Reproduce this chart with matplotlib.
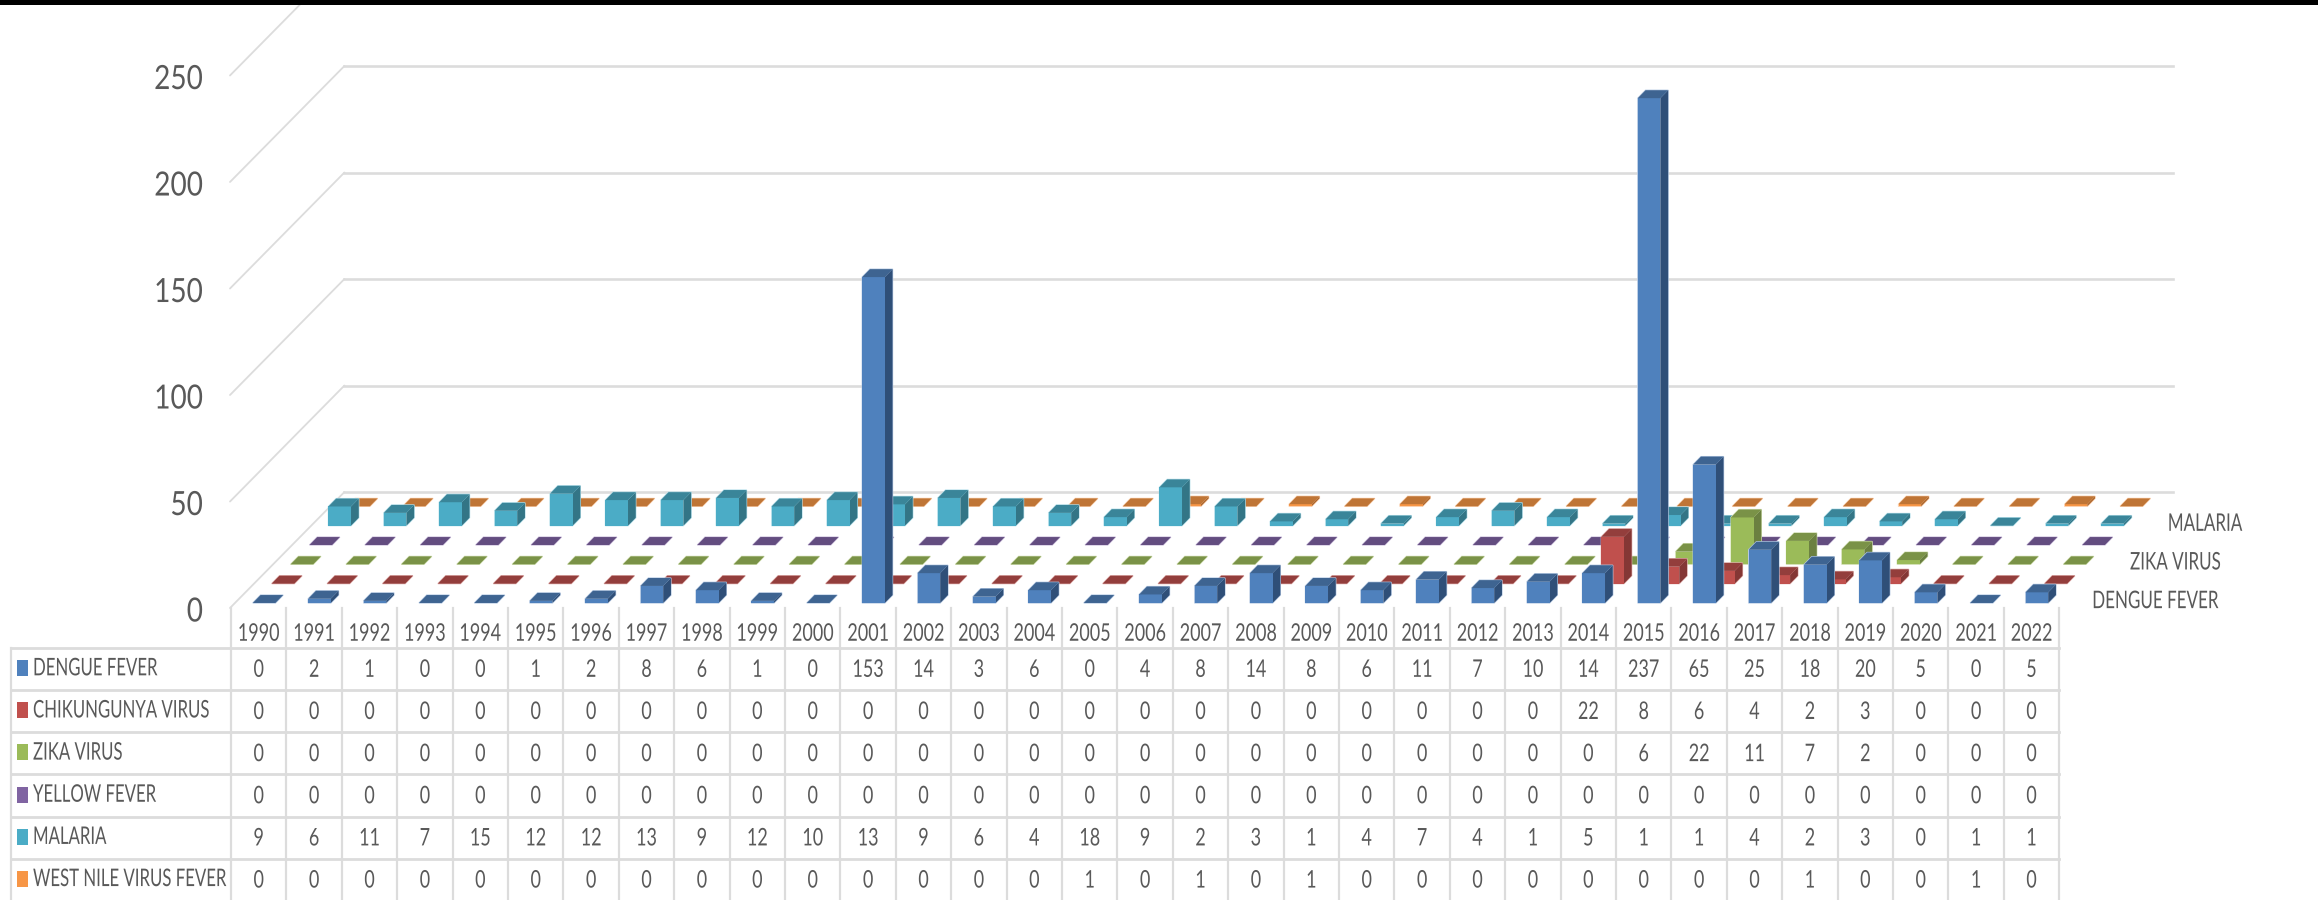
import matplotlib
matplotlib.use("Agg")
import matplotlib.pyplot as plt
from matplotlib.patches import Polygon, Rectangle
from matplotlib.patheffects import AbstractPathEffect
from matplotlib.transforms import Affine2D

plt.rcParams['font.family'] = ['Lato', 'Liberation Sans', 'DejaVu Sans']

years = list(range(1990, 2023))
dengue = [0,2,1,0,0,1,2,8,6,1,0,153,14,3,6,0,4,8,14,8,6,11,7,10,14,237,65,25,18,20,5,0,5]
chik = [0]*24 + [22,8,6,4,2,3,0,0,0]
zika = [0]*25 + [6,22,11,7,2,0,0,0]
yellow = [0]*33
malaria = [9,6,11,7,15,12,12,13,9,12,10,13,9,6,4,18,9,2,3,1,4,7,4,1,5,1,1,4,2,3,0,1,1]
wnv = [0]*15 + [1,0,1,0,1,0,0,0,0,0,0,0,0,1,0,0,1,0]
series_names = ["DENGUE FEVER","CHIKUNGUNYA VIRUS","ZIKA VIRUS","YELLOW FEVER","MALARIA","WEST NILE VIRUS FEVER"]
series_values = [dengue, chik, zika, yellow, malaria, wnv]
face = ['#4F81BD','#C0504D','#9BBB59','#8064A2','#4BACC6','#F79646']
top = ['#3E6491','#933E3C','#7A9247','#634D80','#3A8599','#BF7536']
side = ['#2F4F78','#843735','#6B8040','#574470','#337586','#AC672E']
rim = ['#B4C8E2','#E0B0AE','#D3E0B5','#CBBEDB','#B3DEE9','#FBD0AE']
axis_names = {0:"DENGUE FEVER", 2:"ZIKA VIRUS", 4:"MALARIA"}
yticks = [0,50,100,150,200,250]

W, H = 2318, 900
fig = plt.figure(figsize=(W/100, H/100), dpi=100)
ax = fig.add_axes([0,0,1,1])
ax.set_xlim(0, W); ax.set_ylim(H, 0); ax.axis('off')

GRID = '#DCDCDC'; TXT = '#595959'
X0, Y0 = 231.0, 608.0      # front-left floor corner
CW = 55.4                  # category width
PX = 2.13                  # pixels per unit
DX, DY = 18.9, 19.33       # projection shift per series slot
BW = 22.6                  # bar width
D_IN, D_OUT = 0.26, 0.67   # bar depth inside its slot
GAP = 16.9


class StretchY(AbstractPathEffect):
    """Stretch glyph outlines vertically around a display y, giving tall narrow type."""
    def __init__(self, sy, anchor):
        super().__init__()
        self.sy, self.anchor = sy, anchor

    def draw_path(self, renderer, gc, tpath, affine, rgbFace=None):
        t = affine + Affine2D().translate(0, -self.anchor).scale(1, self.sy).translate(0, self.anchor)
        renderer.draw_path(gc, tpath, t, rgbFace)


def put(x, y, s, size, sx, ha='center', z=21):
    """size = apparent height in points, sx = horizontal narrowing."""
    t = ax.text(x, y, s, ha=ha, va='center', fontsize=size*sx, color=TXT, zorder=z)
    t.set_path_effects([StretchY(1/sx, ax.transData.transform((x, y))[1])])
    return t


def proj(x, depth, v):
    return (X0 + x + depth*DX, Y0 - depth*DY - v*PX)

# walls
xr = CW*len(years)
for t in yticks:
    a = proj(-1, 0, t); b = proj(0, 6, t); c = proj(xr, 6, t)
    ax.plot([a[0], b[0]], [a[1], b[1]], color=GRID, lw=1.3, solid_capstyle='round', zorder=1)
    ax.plot([b[0], c[0]], [b[1], c[1]], color=GRID, lw=1.9, zorder=1)
    put(203, a[1]+4, str(t), 24, 0.84, ha='right')

# bars, back to front
z = 2
for s in range(5, -1, -1):
    vals = series_values[s]
    for i in range(len(years)-1, -1, -1):
        v = vals[i]
        x0 = i*CW + GAP; x1 = x0 + BW
        d0 = s + D_IN; d1 = s + D_OUT
        outline = [proj(x0,d0,0),proj(x1,d0,0),proj(x1,d1,0),proj(x1,d1,v),proj(x0,d1,v),proj(x0,d0,v)]
        ax.add_patch(Polygon(outline, fc=rim[s], ec=rim[s], lw=0.9, zorder=z))
        if v > 0:
            ax.add_patch(Polygon([proj(x1,d0,0),proj(x1,d1,0),proj(x1,d1,v),proj(x1,d0,v)],
                                 fc=side[s], ec='none', zorder=z))
            ax.add_patch(Polygon([proj(x0,d0,0),proj(x1,d0,0),proj(x1,d0,v),proj(x0,d0,v)],
                                 fc=face[s], ec='none', zorder=z))
        ax.add_patch(Polygon([proj(x0,d0,v),proj(x1,d0,v),proj(x1,d1,v),proj(x0,d1,v)],
                             fc=top[s], ec='none', zorder=z))
    z += 1

# series axis labels
for s, name in axis_names.items():
    px, py = proj(xr, s, 0)
    put(px + 33, py - 7, name, 17.5, 0.70, ha='left')

# table
rows_y = [648 + 42.15*k for k in range(7)]
for y in rows_y[:-1]:
    ax.plot([11, X0+xr], [y, y], color=GRID, lw=2, zorder=20)
for k in range(len(years)+1):
    x = X0 + k*CW
    ax.plot([x, x], [Y0, 900], color=GRID, lw=1.6, zorder=20)
ax.plot([11, 11], [648, 900], color=GRID, lw=1.6, zorder=20)

for k, yr in enumerate(years):
    put(X0 + (k+.5)*CW, 634, str(yr), 17.5, 0.74)
for s, name in enumerate(series_names):
    ym = (rows_y[s] + rows_y[s+1])/2
    ax.add_patch(Rectangle((17, ym-9), 11, 16, fc=face[s], ec='none', zorder=21))
    put(33, ym-1, name, 17.5, 0.69, ha='left')
    for k, v in enumerate(series_values[s]):
        put(X0 + (k+.5)*CW, ym+1, str(v), 17.5, 0.74)

ax.add_patch(Rectangle((0, 0), W, 4.7, fc='black', ec='none', zorder=30))
fig.savefig('out.png', dpi=100, facecolor='white')
